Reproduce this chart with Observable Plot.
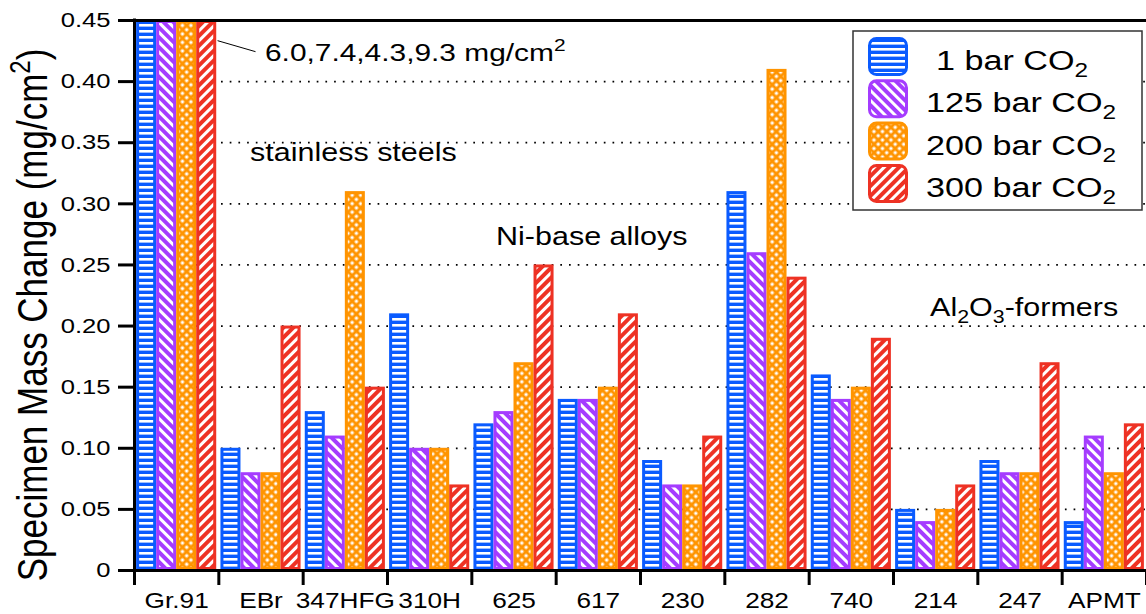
<!DOCTYPE html>
<html><head><meta charset="utf-8">
<script src="https://cdn.jsdelivr.net/npm/d3@7"></script>
<script src="https://cdn.jsdelivr.net/npm/@observablehq/plot@0.6"></script>
<style>
html,body{margin:0;padding:0;background:#fff;}
#chart{position:relative;width:1146px;height:614px;overflow:hidden;}
</style></head><body><div id="chart"></div>
<script>
// ---- data ----
const alloys = ["Gr.91","EBr","347HFG","310H","625","617","230","282","740","214","247","APMT"];
const seriesLabels = ["1 bar CO", "125 bar CO", "200 bar CO", "300 bar CO"]; // + subscript 2
const bar1   = [6.0, 0.10, 0.13, 0.21, 0.12, 0.14, 0.09, 0.31, 0.16, 0.05, 0.09, 0.04];
const bar125 = [7.4, 0.08, 0.11, 0.10, 0.13, 0.14, 0.07, 0.26, 0.14, 0.04, 0.08, 0.11];
const bar200 = [4.3, 0.08, 0.31, 0.10, 0.17, 0.15, 0.07, 0.41, 0.15, 0.05, 0.08, 0.08];
const bar300 = [9.3, 0.20, 0.15, 0.07, 0.25, 0.21, 0.11, 0.24, 0.19, 0.07, 0.17, 0.12];
const yTicks = [0, 0.05, 0.10, 0.15, 0.20, 0.25, 0.30, 0.35, 0.40, 0.45];
const gridValues = [0.05, 0.10, 0.15, 0.20, 0.25, 0.30, 0.35, 0.40];
const yLabel = "Specimen Mass Change (mg/cm";

// ---- style ----
const colors = ["#0a5bff", "#a53cff", "#ff9400", "#ee3224"];
const FONT = "'Liberation Sans', Arial, Helvetica, sans-serif";
const SX = 1.22; // horizontal stretch of the reference lettering

const series = [bar1, bar125, bar200, bar300];
const table = [];
alloys.forEach((a, i) => series.forEach((arr, j) => table.push({alloy: a, i, s: j, value: arr[i]})));
const pad = 0.025, bw = 0.2375;

const barMarks = series.map((arr, j) => Plot.rect(table.filter(d => d.s === j), {
  x1: d => d.i + pad + j * bw,
  x2: d => d.i + pad + (j + 1) * bw,
  y1: 0, y2: "value",
  fill: `url(#pat${j})`, stroke: colors[j], strokeWidth: 3, inset: 1.5
}));

const chart = Plot.plot({
  width: 1146, height: 614,
  marginLeft: 134, marginRight: 0, marginTop: 20, marginBottom: 44,
  style: {fontFamily: FONT, fontSize: "21px", color: "black", background: "white", overflow: "visible"},
  x: {domain: [0, 12]},
  y: {domain: [0, 0.45], clamp: true},
  marks: [
    Plot.ruleY(gridValues, {stroke: "black", strokeWidth: 1.7, strokeDasharray: "1.7,7"}),
    ...barMarks,
    Plot.link([{x1: 0.985, y1: 0.4335, x2: 1.435, y2: 0.4245}], {x1: "x1", y1: "y1", x2: "x2", y2: "y2", stroke: "black", strokeWidth: 1}),
    Plot.ruleY([0, 0.45], {stroke: "black", strokeWidth: 3}),
    Plot.ruleX([0], {stroke: "black", strokeWidth: 3, strokeLinecap: "square"}),
    Plot.axisY(yTicks, {anchor: "left", tickSize: 16, tickPadding: 8, strokeWidth: 3, label: null,
      tickFormat: d => d === 0 ? "0" : d.toFixed(2)}),
    Plot.axisX(d3.range(13), {anchor: "bottom", tickSize: 15, strokeWidth: 3, label: null, tickFormat: () => ""}),
    Plot.axisX(d3.range(12).map(i => i + 0.5), {anchor: "bottom", tickSize: 0, tickPadding: 22, label: null,
      tickFormat: d => alloys[Math.floor(d)]})
  ]
});
document.getElementById("chart").appendChild(chart);

const svg = d3.select(chart);
// patterns
const defs = svg.insert("defs", ":first-child");
function stripe(id, color, period, white, angle) {
  const p = defs.append("pattern").attr("id", id).attr("patternUnits", "userSpaceOnUse")
    .attr("width", period).attr("height", period).attr("patternTransform", `rotate(${angle})`);
  p.append("rect").attr("width", period).attr("height", period).attr("fill", color);
  p.append("rect").attr("width", period).attr("height", white).attr("fill", "#fff");
}
stripe("pat0", colors[0], 6, 2.6, 0);
stripe("pat1", colors[1], 7, 3, 45);
{
  const p = defs.append("pattern").attr("id", "pat2").attr("patternUnits", "userSpaceOnUse")
    .attr("width", 6).attr("height", 6).attr("patternTransform", "rotate(45)");
  p.append("rect").attr("width", 6).attr("height", 6).attr("fill", colors[2]);
  p.append("rect").attr("x", 1.5).attr("y", 1.5).attr("width", 3).attr("height", 3).attr("fill", "#fff");
}
stripe("pat3", colors[3], 7, 3, -45);

// stretch tick labels horizontally like the reference
function stretch(sel) {
  sel.each(function () {
    const t = d3.select(this);
    let tr = t.attr("transform");
    if (!tr) {
      const x = +t.attr("x") || 0, y = +t.attr("y") || 0;
      t.attr("x", null).attr("y", null);
      tr = `translate(${x},${y})`;
    }
    t.attr("transform", `${tr} scale(${SX},1)`);
  });
}
svg.selectAll('g[aria-label="y-axis tick label"]').style("font-size", "21px");
svg.selectAll('g[aria-label="x-axis tick label"]').style("font-size", "21.5px");
stretch(svg.selectAll('g[aria-label="y-axis tick label"] text'));
stretch(svg.selectAll('g[aria-label="x-axis tick label"] text'));

const xs = d3.scaleLinear(chart.scale("x").domain, chart.scale("x").range);
const ys = d3.scaleLinear(chart.scale("y").domain, chart.scale("y").range);

// y label
const yl = svg.append("text")
  .attr("transform", `translate(47,${(ys(0) + ys(0.45)) / 2 + 20}) rotate(-90) scale(1,${SX})`)
  .attr("text-anchor", "middle").style("font-size", "35px").attr("fill", "black");
yl.append("tspan").text(yLabel);
yl.append("tspan").attr("dy", -14).style("font-size", "24px").text("2");
yl.append("tspan").attr("dy", 14).text(")");

// annotations
function note(x, y, size, parts) {
  const t = svg.append("text").attr("transform", `translate(${xs(x)},${ys(y)}) scale(${SX},1)`)
    .attr("text-anchor", "start").style("font-size", size + "px").attr("fill", "black");
  let shift = 0;
  parts.forEach(([txt, kind]) => {
    const sp = t.append("tspan").text(txt);
    const target = kind === "sup" ? -size * 0.42 : kind === "sub" ? size * 0.28 : 0;
    if (target !== shift) { sp.attr("dy", target - shift); shift = target; }
    if (kind) sp.style("font-size", (size * 0.7) + "px");
  });
  return t;
}
note(1.553, 0.4165, 24.5, [["6.0,7.4,4.3,9.3 mg/cm"], ["2", "sup"]]);
note(1.376, 0.3347, 25, [["stainless steels"]]);
note(4.293, 0.266, 25, [["Ni-base alloys"]]);
note(9.44, 0.2075, 25, [["Al"], ["2", "sub"], ["O"], ["3", "sub"], ["-formers"]]);

// legend
const lg = svg.append("g");
lg.append("rect").attr("x", 853).attr("y", 31).attr("width", 289).attr("height", 179)
  .attr("fill", "white").attr("stroke", "#333").attr("stroke-width", 1.5);
seriesLabels.forEach((lab, j) => {
  const top = 37 + j * 42.3;
  lg.append("rect").attr("x", 869.5).attr("y", top + 1.5).attr("width", 37).attr("height", 36).attr("rx", 7)
    .attr("fill", `url(#pat${j})`).attr("stroke", colors[j]).attr("stroke-width", 3);
  const t = lg.append("text").attr("transform", `translate(${j === 0 ? 936 : 926},${top + 33}) scale(${SX},1)`)
    .attr("text-anchor", "start").style("font-size", "28px").attr("fill", "black");
  t.append("tspan").text(lab);
  t.append("tspan").attr("dy", 7).style("font-size", "20px").text("2");
});
</script></body></html>
